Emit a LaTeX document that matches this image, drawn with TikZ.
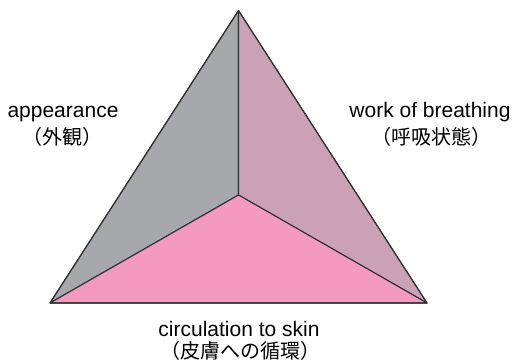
\documentclass[tikz,border=0pt]{standalone}
\usepackage{fontspec}
\setmainfont{Liberation Sans}
\newfontfamily\cjk{Noto Sans CJK JP}
\definecolor{grayface}{HTML}{A6A8AB}
\definecolor{mauveface}{HTML}{CBA1B5}
\definecolor{pinkface}{HTML}{F49AC1}
\definecolor{edgecol}{HTML}{333333}
\begin{document}
\begin{tikzpicture}[x=1pt,y=-1pt,
  face/.style={draw=edgecol,line width=1.1pt,line join=round},
  lat/.style={inner sep=0pt,anchor=base,font=\fontsize{21}{24}\selectfont},
  jp/.style={inner sep=0pt,anchor=base,font=\cjk\fontsize{20}{24}\selectfont}]
\useasboundingbox (0,0) rectangle (514,364);
\coordinate (top) at (238.5,10.5);
\coordinate (mid) at (238.5,195);
\coordinate (bl) at (50,303);
\coordinate (br) at (427,303);
\filldraw[face,fill=grayface] (top) -- (mid) -- (bl) -- cycle;
\filldraw[face,fill=mauveface] (top) -- (br) -- (mid) -- cycle;
\filldraw[face,fill=pinkface] (bl) -- (mid) -- (br) -- cycle;
\draw[face] (top) -- (bl) -- (br) -- cycle;
\node[lat] (app) at (63,117) {appearance};
\node[jp] (appjp) at (62,144.5) {（外観）};
\node[lat] (wob) at (430,117) {work of breathing};
\node[jp] (wobjp) at (431,144) {（呼吸状態）};
\node[lat] (cir) at (239,336) {circulation to skin};
\node[jp] (cirjp) at (240,358) {（皮膚への循環）};
\end{tikzpicture}
\end{document}
